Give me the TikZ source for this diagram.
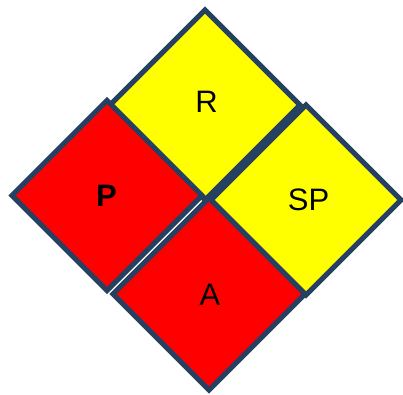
\documentclass[tikz,border=0pt]{standalone}
\usepackage{fontspec}
\setmainfont{Liberation Sans}
\usetikzlibrary{shapes.geometric}
\definecolor{edgeblue}{RGB}{38,64,97}
\definecolor{redfill}{RGB}{255,0,0}
\definecolor{yellowfill}{RGB}{255,255,0}
\begin{document}
\begin{tikzpicture}[x=1bp,y=-1bp,
  tile/.style={diamond, aspect=1, minimum width=190bp, minimum height=190bp, inner sep=0pt, outer sep=0pt, draw=edgeblue, line width=5bp, miter limit=10},
  redtile/.style={tile, fill=redfill},
  yellowtile/.style={tile, fill=yellowfill},
  lab/.style={anchor=base, inner sep=0pt, font=\fontsize{31bp}{37bp}\selectfont}]
\useasboundingbox (0,0) rectangle (403,395);
\node[yellowtile] (R) at (205,105) {};
\node[yellowtile] (SP) at (306,200) {};
\node[redtile, minimum width=192bp, minimum height=192bp] (A) at (209,294) {};
\node[redtile] (P) at (107,195.5) {};
\node[lab] (Rt) at (206.5,112.7) {R};
\node[lab, font=\fontsize{31bp}{37bp}\selectfont\bfseries] (Pt) at (106.5,206) {P};
\node[lab] (SPt) at (308.5,210) {SP};
\node[lab] (At) at (210,305) {A};
\end{tikzpicture}
\end{document}
